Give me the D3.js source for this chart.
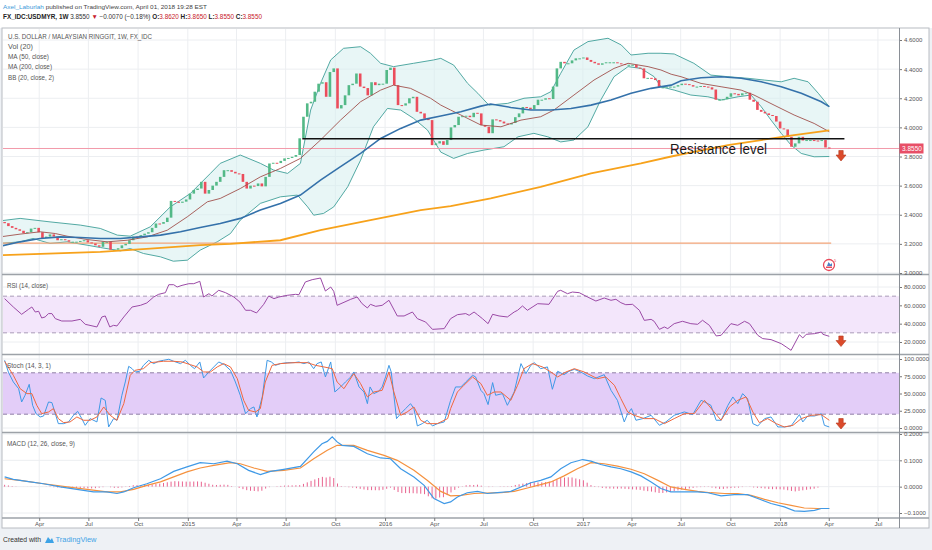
<!DOCTYPE html>
<html>
<head>
<meta charset="utf-8">
<script src="https://cdn.jsdelivr.net/npm/d3@7"></script>
<style>
  body { margin: 0; background: #fff; }
  svg { display: block; }
  text { font-family: "Liberation Sans", Arial, sans-serif; }
</style>
</head>
<body>
<svg width="932" height="550"></svg>
<script>
// weekly closes, USD/MYR, last bar is the week of 2 Apr 2018
var lastBar = new Date(2018, 3, 2);
var closes = [
  3.342, 3.322, 3.31, 3.30, 3.29, 3.274, 3.28, 3.305, 3.31, 3.28,
  3.24, 3.25, 3.265, 3.25, 3.225, 3.232, 3.225, 3.215, 3.215, 3.215,
  3.22, 3.225, 3.21, 3.203, 3.19, 3.18, 3.215, 3.215, 3.16, 3.16,
  3.17, 3.19, 3.20, 3.225, 3.25, 3.248, 3.26, 3.27, 3.28, 3.31,
  3.34, 3.338, 3.35, 3.38, 3.495, 3.49, 3.482, 3.49, 3.505, 3.545,
  3.57, 3.58, 3.626, 3.545, 3.57, 3.60, 3.626, 3.66, 3.706,
  3.706, 3.695, 3.684, 3.68, 3.626, 3.58, 3.60, 3.597, 3.615, 3.595,
  3.66, 3.752, 3.757, 3.755, 3.77, 3.787, 3.79, 3.798, 3.81, 3.925,
  4.073, 4.165, 4.176, 4.245, 4.30, 4.31, 4.21, 4.38, 4.405, 4.13,
  4.153, 4.22, 4.29, 4.30, 4.37, 4.28, 4.27, 4.22, 4.31, 4.29,
  4.30, 4.30, 4.394, 4.41, 4.29, 4.153, 4.15, 4.165, 4.20, 4.21,
  4.107, 4.096, 4.06, 4.05, 3.878, 3.89, 3.905, 3.88, 3.913, 4.00,
  4.016, 4.073, 4.077, 4.08, 4.07, 4.10, 4.096, 4.016, 4.004, 3.96,
  4.055, 4.05, 4.04, 4.027, 4.02, 4.03, 4.07, 4.096, 4.14, 4.135,
  4.124, 4.153, 4.19, 4.19, 4.20, 4.195, 4.28, 4.405, 4.45, 4.44,
  4.44, 4.46, 4.474, 4.474, 4.48, 4.463, 4.45, 4.44, 4.43, 4.44,
  4.447, 4.447, 4.447, 4.44, 4.435, 4.43, 4.43, 4.43, 4.41, 4.405,
  4.337, 4.34, 4.337, 4.325, 4.275, 4.275, 4.28, 4.28,
  4.28, 4.29, 4.30, 4.297, 4.29, 4.28, 4.28, 4.284, 4.28, 4.275,
  4.26, 4.19, 4.19, 4.193, 4.21, 4.234, 4.23, 4.22, 4.234, 4.238,
  4.19, 4.176, 4.12, 4.107, 4.096, 4.085, 4.078, 4.04, 3.993, 3.986,
  3.935, 3.867, 3.89, 3.935, 3.91, 3.913, 3.913, 3.91, 3.908, 3.913,
  3.862, 3.855
];
var firstOpen = 3.35;

// overlay lines as [week index, value], week 0 = first bar
var ma50 = [[-1.2,3.184],[4.1,3.214],[9.4,3.237],[14.7,3.248],[20,3.244],[25.3,3.237],[30.6,3.237],[35.9,3.248],[41.2,3.26],[46.5,3.283],[51.7,3.313],[57,3.34],[62.3,3.375],[67.6,3.432],[72.9,3.478],[78.2,3.535],[83.5,3.638],[88.8,3.73],[94.1,3.822],[99.4,3.924],[104.7,3.993],[110,4.05],[115.3,4.078],[120.6,4.107],[125.9,4.146],[128.5,4.16],[133.8,4.137],[139.1,4.119],[144.4,4.119],[149.7,4.13],[155,4.153],[160.3,4.188],[165.6,4.234],[170.9,4.268],[176.2,4.29],[178.8,4.32],[184.1,4.341],[189.4,4.348],[194.7,4.337],[200,4.313],[205.3,4.279],[210.6,4.234],[215.9,4.176],[218,4.142]];
var ma200 = [[-1.2,3.122],[25.3,3.145],[38.5,3.168],[51.7,3.191],[59.7,3.20],[72.9,3.225],[83.5,3.294],[96.7,3.363],[110,3.432],[117.9,3.459],[128.5,3.512],[141.7,3.592],[155,3.684],[168.2,3.753],[176.2,3.80],[182.2,3.832],[191.2,3.878],[200,3.913],[208.7,3.947],[218,3.98]];
var bbBasis = [[-1.2,3.248],[4.1,3.267],[9.4,3.283],[13.4,3.271],[16.5,3.253],[21.8,3.23],[27.1,3.214],[32.4,3.225],[37.7,3.248],[43,3.294],[48.3,3.386],[53.6,3.489],[57,3.512],[62.3,3.58],[67.6,3.66],[72.9,3.718],[78.2,3.787],[83.5,3.913],[88.8,4.05],[94.1,4.176],[99.4,4.256],[102.8,4.29],[107.3,4.268],[112.6,4.20],[115.3,4.153],[117.9,4.119],[120.6,4.085],[125.9,4.016],[131.2,4.004],[136.5,4.05],[141.7,4.073],[145.2,4.119],[150.5,4.222],[155.8,4.325],[161.1,4.405],[164.8,4.44],[170.1,4.417],[173.5,4.394],[176.2,4.365],[178.8,4.348],[184.1,4.302],[189.4,4.279],[194.7,4.256],[198.1,4.222],[203.4,4.153],[208.7,4.085],[214,4.027],[218,3.97]];
var bbUpper = [[-1.2,3.358],[4.1,3.375],[12,3.351],[20,3.329],[25.3,3.306],[29.8,3.26],[33.2,3.253],[38.5,3.317],[43.8,3.454],[49.1,3.546],[54.4,3.684],[57,3.753],[62.3,3.81],[67.6,3.753],[71.1,3.707],[74.8,3.684],[78.2,3.753],[80.9,4.119],[83.5,4.302],[86.2,4.463],[89.6,4.543],[94.1,4.554],[96.7,4.509],[99.4,4.44],[102.8,4.417],[108.1,4.44],[113.4,4.463],[115.3,4.474],[118.7,4.428],[122.4,4.302],[125.1,4.234],[128,4.153],[133,4.165],[137.3,4.20],[141.7,4.21],[144.4,4.245],[147,4.371],[150.5,4.531],[154.2,4.589],[159.5,4.612],[163,4.566],[165.6,4.497],[170.1,4.509],[173.5,4.509],[177,4.504],[182.2,4.44],[186.7,4.359],[191.2,4.348],[196.5,4.337],[200.8,4.325],[205.3,4.313],[208.7,4.337],[212.4,4.313],[215.1,4.234],[218,4.142]];
var bbLower = [[-1.2,3.203],[4.1,3.214],[7.5,3.237],[12,3.203],[16.5,3.214],[21.8,3.191],[25.3,3.175],[30.6,3.152],[33.2,3.168],[36.7,3.134],[41.2,3.111],[44.6,3.081],[48.3,3.088],[51.7,3.157],[56.2,3.214],[59.7,3.271],[62.3,3.363],[67.6,3.478],[72.9,3.523],[77.4,3.535],[80.1,3.454],[81.7,3.397],[84.3,3.409],[87,3.454],[90.7,3.592],[94.1,3.775],[97.5,4.004],[101.2,4.13],[104.7,4.119],[108.1,4.062],[111.8,3.981],[115.3,3.83],[118.7,3.787],[122.4,3.821],[126.7,3.844],[132,3.867],[135.7,3.935],[139.9,3.959],[143.6,3.935],[147,3.90],[150.5,3.913],[154.2,4.004],[157.6,4.188],[161.1,4.348],[164.8,4.417],[168.2,4.405],[171.7,4.348],[173.5,4.279],[177,4.256],[181.4,4.222],[185.9,4.21],[189.4,4.188],[193.9,4.21],[197.3,4.222],[200,4.142],[202.6,4.05],[205.3,3.959],[207.9,3.878],[210.6,3.821],[214,3.798],[218,3.80]];

// drawn levels
var resistance = [[78.7,3.922],[222,3.922]];
var support = [[-1.2,3.205],[218.5,3.205]];
var lastPrice = 3.855;

// oscillators as [week index, value]
var rsi = [[0,67.3],[2.3,58.2],[4.5,50.2],[6.3,55.6],[7.2,58.2],[8.1,52.7],[9,53.5],[9.8,46.2],[10.7,47.3],[11.6,51],[12.5,51],[13.4,45.5],[15.1,42.9],[17.8,42.9],[20,44.7],[21.3,39.3],[24.4,36.4],[25.7,47.3],[26.6,48.4],[27.8,36.4],[28.8,38.2],[29.7,37.5],[31.5,47.3],[33.7,58.2],[35.9,60],[37.6,62.6],[39.4,69.1],[40.7,72],[42.5,73.8],[43.4,82.5],[44.7,82.5],[45.6,80],[46.9,81.8],[48.7,83.6],[50,83.6],[51.6,86.2],[52.6,69.1],[54,72.7],[54.8,70.2],[56.6,76.4],[58.4,73.8],[60.6,69.1],[62.2,63.6],[63.7,54.6],[65,54.6],[66.6,51.7],[68.5,61.1],[69.8,70.2],[71.2,67.3],[72.5,69.1],[74.7,70.9],[76.9,72],[77.8,71.6],[79.5,85.5],[81.3,88],[83.5,89.8],[84.8,75.6],[86.2,80],[87,75.3],[87.9,60],[91.5,66.6],[93.2,69.1],[94.5,61.8],[95.9,57.1],[96.7,61.1],[98.1,58.9],[99.8,60],[101.6,65.5],[103.8,48.4],[105.6,48.4],[107.8,52.7],[109.1,45.5],[111.3,41.8],[113.1,33.8],[116.2,34.6],[117.9,45.5],[119.7,49.8],[121.9,51],[122.8,49.1],[124.1,52.7],[125,49.8],[126.3,45.5],[127.8,40],[129,50.2],[130.7,48.4],[132.9,47.3],[134.7,52.7],[135.6,54.6],[136.9,59.3],[138.2,54.6],[140.9,61.8],[143.9,61.1],[146.2,75.3],[147,76.4],[148.8,72.7],[150.1,74.5],[151.9,73.8],[154.1,69.1],[156.3,64.7],[158.5,68],[160.3,65.5],[161.6,66.6],[162.9,62.9],[164.2,60.7],[166,61.1],[167.8,54.6],[169.1,43.6],[170.9,44.7],[171.7,42.6],[173.1,33.8],[174.4,36.4],[175.3,34.6],[177,40],[179.2,42.6],[181.4,40],[183.2,39.3],[184.5,43.7],[186.3,38.2],[188.1,26.6],[189.4,27.3],[192,40],[193.8,38.2],[195.6,42.6],[196.9,40],[199.1,27.3],[200.4,23.7],[202.6,22.6],[205.3,18.2],[206.6,14.6],[207.9,10.9],[210.1,28],[211,24.4],[211.9,28.4],[214.1,29.1],[215.9,30.9],[216.3,28.4],[218,26.2]];
var stochK = [[0,98.1],[1,81],[2.3,66.7],[3.7,57],[4.5,37.7],[5.4,47.4],[6.5,63.3],[7.4,32.9],[8.3,20.8],[9.4,16],[10.3,17.4],[11.6,37.7],[12.5,36.8],[13.4,20.8],[14.2,6.3],[15.6,6.3],[16.9,8.8],[18.2,18.4],[19.3,24.2],[20.4,13.6],[21.3,3.9],[22.6,13.6],[24.4,8.8],[25.5,43.5],[26.6,40.1],[27.5,1.5],[28.8,13.6],[29.7,11.2],[31,47.4],[31.9,66.7],[32.8,89.4],[33.7,86],[34.5,81.2],[35.7,82.2],[36.7,90.8],[38.1,98.1],[39.4,93.3],[40.7,96.7],[42,98.1],[43.4,99.6],[44.7,96.7],[46.5,93.3],[47.8,98.1],[49.1,90.8],[50.2,86],[51.6,95.7],[52.6,72.5],[54,81.2],[55.3,88.5],[56.6,95.7],[58.1,91.8],[59.7,83.6],[61,66.7],[62.3,47.4],[63.7,20.8],[65,28.1],[65.9,30.5],[66.7,16],[68.1,45],[69.4,98.1],[70.5,95.7],[71.6,90.8],[72.9,93.3],[74.7,94.7],[76.5,94.7],[77.8,95.7],[79.1,93.3],[80.4,95.7],[81.7,86],[82.6,93.3],[83.7,95.7],[84.8,74],[86.2,95.7],[87.3,52.2],[88.8,59.5],[90.1,66.7],[91.5,74],[92.3,81.2],[93.7,59.5],[95,52.2],[95.9,35.3],[96.6,59.5],[97.6,49.8],[98.9,53.2],[99.8,59.5],[100.7,74],[101.6,90.8],[102.2,81.2],[103.6,13.6],[104.7,20.8],[106,28.1],[107.3,35.3],[108.2,28.1],[109.1,3],[110.4,6.3],[111.7,11.2],[113.1,3],[114.4,6.3],[116.2,8.8],[117.9,40.1],[119.2,59.5],[120.6,59.5],[121.9,66.7],[123.7,76.4],[124.5,74],[125.9,54.6],[126.7,49.8],[127.8,33.9],[129,65.8],[129.8,47.4],[131.6,49.8],[132.9,32.9],[134.7,52.2],[136.5,93.3],[137.8,78.8],[139.1,90.8],[140,94.7],[141.7,86],[143.5,88.5],[144.8,56.1],[146.2,82.2],[147.9,77.3],[149.2,82.2],[150.6,85],[152.3,81.2],[154.1,75.4],[155.9,71.5],[158.5,77.3],[160.3,54.6],[162,40.1],[163.8,8.8],[164.7,20.8],[165.7,28.1],[166.9,11.2],[168.7,13.6],[170.9,18.4],[173.1,3.9],[174.8,8.8],[177,18.4],[179.7,23.3],[181.9,19.4],[184.1,40.1],[185.4,36.8],[186.7,32.9],[188.1,11.2],[189.4,11.2],[191.2,32.9],[192.5,45],[193.8,35.3],[195.1,49.8],[196.4,42.6],[197.8,6.3],[199.1,3],[200.9,13.6],[202.6,16],[204.4,1.5],[206.1,1.5],[207.9,3],[210.1,19.4],[211,8.8],[212.3,17.4],[214.1,17.4],[215.9,20.8],[216.7,3.9],[218,1.5]];
var stochD = [[0,96.7],[2.3,76.4],[4.1,57],[5.9,49.8],[7.2,49.8],[8.5,32.9],[9.8,20.8],[11.6,23.2],[12.9,28.1],[14.2,13.6],[15.6,7.8],[17.3,8.8],[19.1,16],[20.9,11.2],[22.6,11.2],[24.4,16],[26.2,30.5],[27.9,18.4],[29.7,11.2],[31.5,35.3],[33.2,76.4],[34.5,83.6],[36.7,86],[38.5,94.7],[40.3,95.7],[42,96.7],[44.7,96.7],[46.9,95.7],[49.1,91.8],[50.9,88.5],[52.6,81.2],[54.4,81.2],[56.2,88.5],[57.9,93.3],[59.7,88.5],[61.5,71.5],[63.2,40.1],[64.5,25.6],[66.3,23.2],[67.6,28.1],[68.9,66.7],[70.7,90.8],[72.9,93.3],[76.5,94.7],[80,94.7],[82.2,90.8],[84.4,88.5],[86.6,86],[87.9,66.7],[89.7,57],[92.3,78.8],[94.1,64.3],[95.9,45],[97.6,52.2],[99.8,54.6],[101.6,81.2],[102.9,52.2],[104.7,18.4],[106.4,23.2],[108.2,30.5],[110,11.2],[111.7,6.3],[114.4,6.3],[117.1,13.6],[117.9,28.1],[119.7,52.2],[121.4,61.9],[123.7,74],[125.9,64.3],[127.6,47.4],[129.4,52.2],[131.2,52.2],[133.8,40.1],[135.6,61.9],[137.3,86],[139.5,93.3],[142.2,88.5],[144.4,81.2],[146.2,74],[148.4,81.2],[150.6,86],[153.2,81.2],[156.7,71.5],[158.9,74],[161.2,61.9],[162.9,42.6],[164.7,23.2],[166.4,18.4],[169.1,13.6],[171.7,13.6],[174.4,6.3],[177,13.6],[179.7,20.8],[182.3,20.8],[185,40.1],[187.2,25.6],[189.4,11.2],[191.6,30.5],[193.8,40.1],[196,45],[197.8,23.2],[199.5,7.8],[201.7,13.6],[204,6.3],[206.1,1.5],[208.4,3.9],[210.6,13.6],[213.2,18.4],[215.9,19.4],[218,11.2]];
var macdLine = [[0,0.037],[2.3,0.028],[6.8,0.018],[10.3,0.011],[14.7,-0.001],[19.1,-0.010],[23.5,-0.020],[27,-0.020],[29.7,-0.026],[31.5,-0.020],[34.1,-0.004],[37.6,0.011],[41.2,0.030],[44.7,0.058],[48.2,0.075],[51.7,0.091],[55.3,0.087],[58.8,0.097],[61.5,0.087],[64.5,0.062],[67.6,0.046],[70.3,0.058],[73.8,0.066],[78.2,0.077],[81.7,0.132],[83.9,0.163],[85.3,0.172],[86.6,0.189],[87.9,0.170],[89.2,0.157],[92.3,0.153],[95.9,0.125],[99.4,0.109],[102,0.106],[104.7,0.068],[108.2,0.037],[110.9,0.005],[113.5,-0.045],[116.2,-0.064],[117.9,-0.058],[119.7,-0.039],[122.3,-0.023],[125,-0.018],[127.6,-0.026],[130.3,-0.023],[133.8,-0.018],[136.5,-0.001],[139.1,0.015],[141.7,0.024],[144.4,0.037],[147,0.068],[149.7,0.091],[152.8,0.103],[155,0.097],[157.6,0.084],[160.3,0.075],[162.9,0.068],[165.6,0.056],[168.2,0.041],[170.9,0.018],[173.5,-0.007],[176.1,-0.020],[179.7,-0.020],[183.2,-0.020],[185.9,-0.023],[189.4,-0.035],[192.9,-0.030],[196.4,-0.030],[199.1,-0.045],[202.6,-0.064],[206.1,-0.077],[208.8,-0.092],[211.4,-0.094],[214.1,-0.090],[215.9,-0.083],[218,-0.083]];
var macdSignal = [[0,0.030],[4.1,0.024],[10.3,0.011],[16.5,-0.001],[21.8,-0.010],[27,-0.020],[30.6,-0.020],[34.1,-0.010],[37.6,0.005],[41.2,0.018],[44.7,0.037],[48.2,0.056],[51.7,0.071],[55.3,0.081],[59.7,0.091],[62.3,0.087],[65.9,0.071],[69.4,0.058],[73.8,0.062],[78.2,0.071],[81.7,0.106],[85.3,0.138],[87.9,0.157],[92.3,0.157],[95.9,0.138],[100.3,0.119],[103.8,0.100],[108.2,0.062],[111.7,0.024],[115.3,-0.018],[117.9,-0.035],[120.6,-0.033],[124.1,-0.026],[127.6,-0.024],[131.2,-0.023],[134.7,-0.018],[138.2,-0.005],[141.7,0.008],[144.4,0.018],[147.9,0.041],[151.4,0.068],[155,0.091],[158.5,0.087],[162,0.078],[165.6,0.066],[169.1,0.049],[172.7,0.024],[176.1,-0.001],[179.7,-0.010],[183.2,-0.018],[186.7,-0.023],[190.3,-0.026],[193.8,-0.026],[197.3,-0.033],[200.9,-0.048],[204.4,-0.061],[207.9,-0.071],[211.4,-0.081],[215,-0.083],[218,-0.083]];

// axis tick labels
var mainTicks = [3.0, 3.2, 3.4, 3.6, 3.8, 4.0, 4.2, 4.4, 4.6];
var rsiTicks = [20, 40, 60, 80];
var stochTicks = [0, 25, 50, 75, 100];
var macdTicks = [-0.1, 0, 0.1, 0.2];

var svg = d3.select('svg');
var n = closes.length;
var WEEK = 7 * 864e5;
var firstBar = d3.timeDay.offset(lastBar, -7 * (n - 1));
var wDate = function (w) { return new Date(+firstBar + w * WEEK); };

var left = 3, right = 899;
var x = d3.scaleTime()
  .domain([d3.timeDay.offset(firstBar, -3), d3.timeDay.offset(lastBar, 129)])
  .range([left, right]);
var wx = function (w) { return x(wDate(w)); };

var panes = [
  { id: 'main', top: 29, bottom: 274, y: d3.scaleLinear().domain([3.0, 4.6]).range([273, 40]), ticks: mainTicks },
  { id: 'rsi', top: 275, bottom: 354, y: d3.scaleLinear().domain([20, 80]).range([342, 287]), ticks: rsiTicks },
  { id: 'stoch', top: 355, bottom: 432, y: d3.scaleLinear().domain([0, 100]).range([428, 359]), ticks: stochTicks },
  { id: 'macd', top: 433, bottom: 518, y: d3.scaleLinear().domain([-0.1, 0.2]).range([513, 434]), ticks: macdTicks }
];
var P = {};
panes.forEach(function (p) { P[p.id] = p; });

// page background and frame
svg.append('rect').attr('width', 932).attr('height', 550).attr('fill', '#eef1f5');
svg.append('rect').attr('width', 932).attr('height', 28).attr('fill', '#fff');
svg.append('rect').attr('x', 2).attr('y', 28).attr('width', 927).attr('height', 500)
  .attr('fill', '#fff').attr('stroke', '#b8bcc2');

var defs = svg.append('defs');
panes.forEach(function (p) {
  defs.append('clipPath').attr('id', 'clip-' + p.id)
    .append('rect').attr('x', left).attr('y', p.top).attr('width', right - left).attr('height', p.bottom - p.top);
});

var timeTicks = x.ticks(d3.timeMonth.every(3));
var fmtTick = function (d) { return d.getMonth() === 0 ? d3.timeFormat('%Y')(d) : d3.timeFormat('%b')(d); };

// grid
panes.forEach(function (p) {
  var g = svg.append('g').attr('class', 'grid');
  g.selectAll('.v').data(timeTicks).enter().append('line')
    .attr('x1', function (d) { return x(d); }).attr('x2', function (d) { return x(d); })
    .attr('y1', p.top).attr('y2', p.bottom).attr('stroke', '#eceef1');
  g.selectAll('.h').data(p.ticks).enter().append('line')
    .attr('x1', left).attr('x2', right)
    .attr('y1', function (d) { return p.y(d); }).attr('y2', function (d) { return p.y(d); })
    .attr('stroke', '#eceef1');
});

// ---- main pane ----
var yM = P.main.y;
var gm = svg.append('g').attr('clip-path', 'url(#clip-main)');
var line = function (y) {
  return d3.line().x(function (d) { return wx(d[0]); }).y(function (d) { return y(d[1]); });
};
var lm = line(yM);

gm.append('path')
  .attr('d', lm(bbUpper.concat(bbLower.slice().reverse())) + 'Z')
  .attr('fill', '#d6eeee').attr('fill-opacity', 0.55);
gm.append('path').attr('d', lm(bbUpper)).attr('fill', 'none').attr('stroke', '#3f9f99').attr('stroke-width', 0.9);
gm.append('path').attr('d', lm(bbLower)).attr('fill', 'none').attr('stroke', '#3f9f99').attr('stroke-width', 0.9);

gm.append('line')
  .attr('x1', left).attr('x2', right)
  .attr('y1', yM(lastPrice)).attr('y2', yM(lastPrice))
  .attr('stroke', '#f29aaa').attr('stroke-width', 1);
gm.append('path').attr('d', lm(support)).attr('stroke', '#f3a578').attr('stroke-width', 1.2);

var opens = closes.map(function (c, i) { return i ? closes[i - 1] : firstOpen; });
gm.selectAll('.candle').data(closes).enter().append('rect')
  .attr('class', 'candle')
  .attr('x', function (d, i) { return wx(i) - 1.3; })
  .attr('width', 2.6)
  .attr('y', function (d, i) { return yM(Math.max(d, opens[i])); })
  .attr('height', function (d, i) { return Math.max(1, Math.abs(yM(d) - yM(opens[i]))); })
  .attr('fill', function (d, i) { return d >= opens[i] ? '#53b987' : '#eb4d5c'; });

gm.append('path').attr('d', lm(bbBasis)).attr('fill', 'none').attr('stroke', '#a0504c').attr('stroke-width', 0.9);
gm.append('path').attr('d', lm(ma50)).attr('fill', 'none').attr('stroke', '#3471aa').attr('stroke-width', 1.6);
gm.append('path').attr('d', lm(ma200)).attr('fill', 'none').attr('stroke', '#f7a21b').attr('stroke-width', 1.8);
svg.append('path').attr('d', lm(resistance)).attr('stroke', '#111').attr('stroke-width', 1.6);

svg.append('text').attr('x', 670).attr('y', 154)
  .attr('font-family', '"Open Sans", sans-serif').attr('font-size', 14)
  .attr('textLength', 97).attr('lengthAdjust', 'spacingAndGlyphs')
  .attr('fill', '#1a1a1a').text('Resistance level');

// ---- RSI pane ----
var yR = P.rsi.y;
var gr = svg.append('g').attr('clip-path', 'url(#clip-rsi)');
gr.append('rect').attr('x', left).attr('width', right - left)
  .attr('y', yR(70)).attr('height', yR(30) - yR(70)).attr('fill', '#f3e6fb');
[70, 30].forEach(function (v) {
  gr.append('line').attr('x1', left).attr('x2', right).attr('y1', yR(v)).attr('y2', yR(v))
    .attr('stroke', '#a99bb8').attr('stroke-dasharray', '4,3');
});
gr.append('path').attr('d', line(yR)(rsi)).attr('fill', 'none').attr('stroke', '#9b4aa6').attr('stroke-width', 1);

// ---- Stoch pane ----
var yS = P.stoch.y;
var gs = svg.append('g').attr('clip-path', 'url(#clip-stoch)');
gs.append('rect').attr('x', left).attr('width', right - left)
  .attr('y', yS(80)).attr('height', yS(20) - yS(80)).attr('fill', '#e3cdf8');
[80, 20].forEach(function (v) {
  gs.append('line').attr('x1', left).attr('x2', right).attr('y1', yS(v)).attr('y2', yS(v))
    .attr('stroke', '#8f7fa6').attr('stroke-dasharray', '4,3');
});
gs.append('path').attr('d', line(yS)(stochK)).attr('fill', 'none').attr('stroke', '#3f99e6').attr('stroke-width', 1);
gs.append('path').attr('d', line(yS)(stochD)).attr('fill', 'none').attr('stroke', '#f0683e').attr('stroke-width', 1);

// ---- MACD pane ----
var yC = P.macd.y;
var gc = svg.append('g').attr('clip-path', 'url(#clip-macd)');
var at = function (pairs, w) {
  for (var k = 1; k < pairs.length; k++) {
    if (w <= pairs[k][0]) {
      var a = pairs[k - 1], b = pairs[k];
      return a[1] + (b[1] - a[1]) * (w - a[0]) / (b[0] - a[0]);
    }
  }
  return pairs[pairs.length - 1][1];
};
var hist = d3.range(n).map(function (i) { return at(macdLine, i) - at(macdSignal, i); });
gc.selectAll('.hist').data(hist).enter().append('line')
  .attr('x1', function (d, i) { return wx(i); }).attr('x2', function (d, i) { return wx(i); })
  .attr('y1', yC(0)).attr('y2', function (d) { return yC(d); })
  .attr('stroke', '#e8638f').attr('stroke-width', 1);
gc.append('path').attr('d', line(yC)(macdSignal)).attr('fill', 'none').attr('stroke', '#f5913e').attr('stroke-width', 1.2);
gc.append('path').attr('d', line(yC)(macdLine)).attr('fill', 'none').attr('stroke', '#3f99e6').attr('stroke-width', 1.2);

// pane separators
[274.5, 354.5, 432.5, 518].forEach(function (y) {
  svg.append('line').attr('x1', 2).attr('x2', 929).attr('y1', y).attr('y2', y)
    .attr('stroke', '#9da2a8').attr('stroke-width', 1.4);
});

// right axes
panes.forEach(function (p) {
  var ax = svg.append('g').attr('transform', 'translate(' + right + ',0)')
    .call(d3.axisRight(p.y).tickValues(p.ticks).tickFormat(d3.format('.4f')).tickSize(3).tickPadding(2));
  ax.select('.domain').remove();
  ax.selectAll('line').attr('stroke', '#777');
  ax.selectAll('text').attr('font-size', 6).attr('fill', '#555').attr('font-family', '"Liberation Sans", Arial, sans-serif');
});
svg.append('line').attr('x1', right + 0.5).attr('x2', right + 0.5).attr('y1', 28).attr('y2', 528)
  .attr('stroke', '#8a8f96').attr('stroke-width', 1);

// bottom time axis
var xa = svg.append('g').attr('transform', 'translate(0,518)')
  .call(d3.axisBottom(x).tickValues(timeTicks).tickFormat(fmtTick).tickSize(3).tickPadding(1));
xa.select('.domain').remove();
xa.selectAll('line').attr('stroke', '#777');
xa.selectAll('text').attr('font-size', 6).attr('fill', '#555').attr('font-family', '"Liberation Sans", Arial, sans-serif');

// last price tag
svg.append('rect').attr('x', right + 0.5).attr('y', yM(lastPrice) - 5).attr('width', 24).attr('height', 10).attr('fill', '#e84f67');
svg.append('text').attr('x', right + 3).attr('y', yM(lastPrice) + 2.3).attr('font-size', 6.5).attr('fill', '#fff').text('3.8550');

// arrows
var arrow = function (cx, top) {
  svg.append('path')
    .attr('d', 'M' + (cx - 2.2) + ',' + top + 'h4.4v4.5h2.8l-5,6l-5,-6h2.8z')
    .attr('fill', '#db4a2b').attr('stroke', '#b63a20').attr('stroke-width', 0.6);
};
arrow(841, 150.5);
arrow(841, 336);
arrow(841, 418.5);

// event badge
var badge = svg.append('g').attr('transform', 'translate(829,265)');
badge.append('circle').attr('r', 5.5).attr('fill', '#fff').attr('stroke', '#e8485a').attr('stroke-width', 1.3);
badge.append('path').attr('d', 'M-3,1.5h6v1.5h-6z').attr('fill', '#e8485a');
badge.append('path').attr('d', 'M-2,1l1.5,-4l2,2.5l1.5,-1.5v3z').attr('fill', '#4d7fc4');
badge.append('text').attr('x', 5).attr('y', -3).attr('font-size', 4).attr('fill', '#e8485a').text('5');

// pane titles
var legend = function (t, x0, y0, len) {
  svg.append('text').attr('x', x0).attr('y', y0).attr('font-size', 7).attr('fill', '#555')
    .attr('textLength', len).attr('lengthAdjust', 'spacingAndGlyphs').text(t);
};
legend('U.S. DOLLAR / MALAYSIAN RINGGIT, 1W, FX_IDC', 8, 38.5, 144);
legend('Vol (20)', 8, 48.5, 25);
legend('MA (50, close)', 8, 59, 41);
legend('MA (200, close)', 8, 69, 44);
legend('BB (20, close, 2)', 8, 79.5, 46);
legend('RSI (14, close)', 7, 287.5, 41);
legend('Stoch (14, 3, 1)', 7, 367.5, 44);
legend('MACD (12, 26, close, 9)', 7, 445.5, 68);

// header: one text element per line, sized so glyphs are not squeezed
var h1 = svg.append('text').attr('x', 3).attr('y', 9).attr('font-size', 6)
  .attr('textLength', 204).attr('lengthAdjust', 'spacingAndGlyphs');
h1.append('tspan').attr('fill', '#3d9ad9').text('Axel_Laburlah');
h1.append('tspan').attr('fill', '#444').text(' published on TradingView.com, April 01, 2018 19:28 EST');

var h2 = svg.append('text').attr('x', 3).attr('y', 19).attr('font-size', 6.4)
  .attr('textLength', 259).attr('lengthAdjust', 'spacingAndGlyphs');
var quote = [
  ['FX_IDC:USDMYR, 1W ', '#222', 'bold'],
  [' 3.8550 ', '#333', 'normal'],
  ['\u25BC', '#c8202a', 'normal'],
  [' \u22120.0070 (\u22120.18%) ', '#333', 'normal'],
  ['O:', '#222', 'bold'], ['3.8620 ', '#c8202a', 'normal'],
  ['H:', '#222', 'bold'], ['3.8650 ', '#c8202a', 'normal'],
  ['L:', '#222', 'bold'], ['3.8550 ', '#c8202a', 'normal'],
  ['C:', '#222', 'bold'], ['3.8550', '#c8202a', 'normal']
];
quote.forEach(function (q) {
  h2.append('tspan').attr('fill', q[1]).attr('font-weight', q[2]).text(q[0]);
});

// footer
svg.append('text').attr('x', 3).attr('y', 542).attr('font-size', 7)
  .attr('textLength', 38).attr('lengthAdjust', 'spacingAndGlyphs').attr('fill', '#333').text('Created with');
svg.append('path').attr('d', 'M45,543l3,-6l2.5,3l1.5,-2l2,5z').attr('fill', '#3ea3e6');
svg.append('text').attr('x', 55.5).attr('y', 542).attr('font-size', 7)
  .attr('textLength', 41).attr('lengthAdjust', 'spacingAndGlyphs').attr('fill', '#3ea3e6').text('TradingView');
</script>
</body>
</html>
